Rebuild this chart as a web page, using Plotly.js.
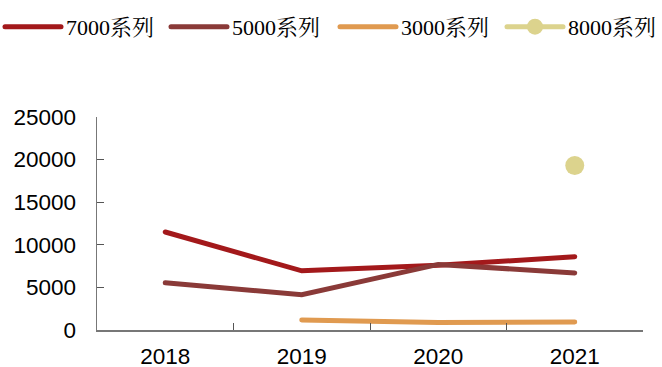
<!DOCTYPE html>
<html><head><meta charset="utf-8">
<script src="https://cdn.plot.ly/plotly-3.0.1.min.js"></script>
<style>body{margin:0;padding:0;background:#fff}#chart{width:662px;height:367px}
.legendlines path, .scatterlayer .js-line{stroke-linecap:round}</style>
</head><body><div id="chart"></div>
<script>
const years = ['2018', '2019', '2020', '2021'];
const s7000 = [11500, 6950, 7600, 8600];
const s5000 = [5550, 4150, 7700, 6700];
const s3000 = [null, 1180, 880, 950];
const s8000 = [null, null, null, 19300];
const names = ['7000系列', '5000系列', '3000系列', '8000系列'];
const colors = ['#A3191B', '#8A3A38', '#E09A50', '#DCD38D'];

const traces = [
  {x: years, y: s7000, name: names[0], legend: 'legend', mode: 'lines', line: {color: colors[0], width: 5}},
  {x: years, y: s5000, name: names[1], legend: 'legend2', mode: 'lines', line: {color: colors[1], width: 5}},
  {x: years, y: s3000, name: names[2], legend: 'legend3', mode: 'lines', line: {color: colors[2], width: 5}},
  {x: years, y: s8000, name: names[3], legend: 'legend4', mode: 'lines+markers', line: {color: colors[3], width: 5}, marker: {color: colors[3], size: 19}}
];
const W = 662;
function leg(px) {
  return {orientation: 'h', xref: 'container', x: px / W, xanchor: 'left', yref: 'container', y: 0.984, yanchor: 'top',
    font: {family: '"Liberation Serif", "Noto Serif CJK SC", "Noto Sans CJK SC", serif', size: 22, color: '#000'},
    itemwidth: 56, bgcolor: 'rgba(0,0,0,0)'};
}
const tickFont = {family: '"Liberation Sans", Arial, sans-serif', size: 22.5, color: '#000'};
const layout = {
  width: 662, height: 367,
  margin: {l: 97, r: 19, t: 117, b: 37},
  paper_bgcolor: '#fff', plot_bgcolor: '#fff',
  showlegend: true,
  legend: leg(0), legend2: leg(166), legend3: leg(335), legend4: leg(502),
  xaxis: {type: 'category', range: [-0.5, 3.5], tickson: 'boundaries', ticks: 'inside', ticklen: 7,
    tickcolor: '#555', showline: true, linecolor: '#777', linewidth: 1.5, showgrid: false, zeroline: false,
    tickfont: tickFont, ticklabelstandoff: 5},
  yaxis: {range: [0, 25000], dtick: 5000, tickformat: 'd', ticks: 'inside', ticklen: 7, tickcolor: '#555',
    showline: true, linecolor: '#777', linewidth: 1.5, showgrid: false, zeroline: false,
    tickfont: tickFont, ticklabelstandoff: 15}
};
Plotly.newPlot('chart', traces, layout, {displayModeBar: false, staticPlot: true});
</script></body></html>
